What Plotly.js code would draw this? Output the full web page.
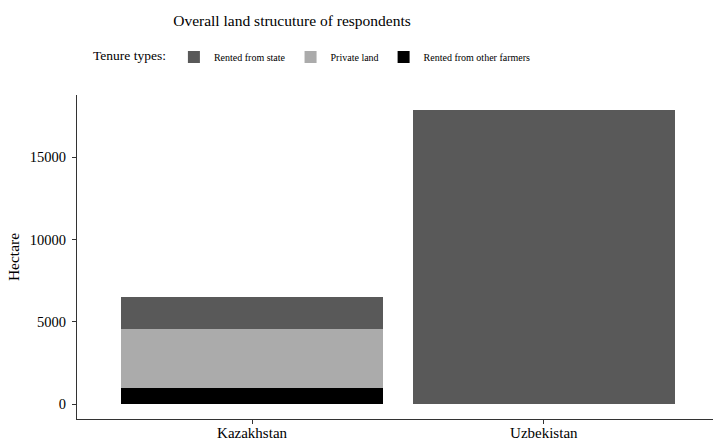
<!DOCTYPE html>
<html>
<head>
<meta charset="utf-8">
<script src="https://cdn.plot.ly/plotly-3.0.1.min.js"></script>
<style>html,body{margin:0;padding:0;background:#fff;}#chart{width:713px;height:440px;}</style>
</head>
<body>
<div id="chart"></div>
<script>
const countries = ["Kazakhstan", "Uzbekistan"];
const rentedOtherFarmers = [1010, 0];
const privateLand = [3530, 0];
const rentedFromState = [1970, 17880];
const seriesNames = ["Rented from other farmers", "Private land", "Rented from state"];
const seriesColors = ["#000000", "#ababab", "#595959"];
const yTicks = [0, 5000, 10000, 15000];

const values = [rentedOtherFarmers, privateLand, rentedFromState];
const traces = values.map((v, i) => ({
  type: "bar",
  x: countries,
  y: v,
  name: seriesNames[i],
  marker: {color: seriesColors[i], line: {width: 0}},
  hoverinfo: "x+y+name"
}));

const serif = "Liberation Serif, Times New Roman, serif";
const layout = {
  width: 713, height: 440,
  margin: {l: 77, r: 0, t: 95, b: 20.5, pad: 0},
  paper_bgcolor: "#fff", plot_bgcolor: "#fff",
  barmode: "stack",
  bargap: 0.1,
  font: {family: serif, color: "#000", size: 15},
  title: {text: "Overall land strucuture of respondents", x: 292/713, xanchor: "center", xref: "container",
          y: 1 - 21/440, yanchor: "middle", yref: "container", font: {family: serif, size: 15.5, color: "#000"}},
  showlegend: true,
  legend: {orientation: "h", traceorder: "reversed", x: 14/636, xanchor: "left", y: 1 + 38/324.5, yanchor: "middle",
           font: {family: serif, size: 10, color: "#000"},
           title: {text: "Tenure types:", side: "left", font: {family: serif, size: 13.5, color: "#000"}},
           itemwidth: 30, bgcolor: "rgba(0,0,0,0)"},
  xaxis: {type: "category", range: [-0.6, 1.58], showgrid: false, zeroline: false,
          showline: true, linecolor: "#333", linewidth: 1.2, ticks: "outside", ticklen: 4, tickcolor: "#333",
          ticklabelstandoff: -4,
          tickfont: {family: serif, size: 15, color: "#000"}, fixedrange: true},
  yaxis: {range: [-894, 18774], tickvals: yTicks, ticktext: yTicks.map(String), showgrid: false, zeroline: false,
          showline: true, linecolor: "#333", linewidth: 1.2, ticks: "outside", ticklen: 4, tickcolor: "#333",
          ticklabelstandoff: 3,
          tickfont: {family: serif, size: 14.5, color: "#000"},
          title: {text: "Hectare", font: {family: serif, size: 15.5, color: "#000"}, standoff: 6}, fixedrange: true}
};

Plotly.newPlot("chart", traces, layout, {displayModeBar: false, staticPlot: true});
</script>
</body>
</html>
